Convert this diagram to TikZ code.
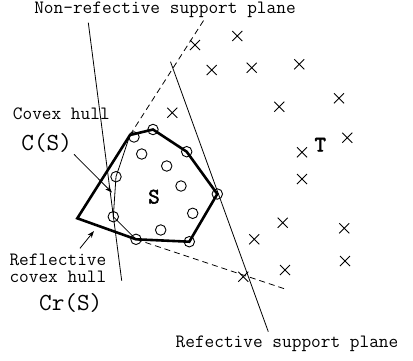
\documentclass[tikz,border=0pt]{standalone}
\usepackage{fontspec}
\newfontfamily\boldtt{Latin Modern Mono}[FakeBold=2.5]
\usetikzlibrary{arrows.meta}
\begin{document}
\begin{tikzpicture}[x=1pt,y=-1pt,
  thinline/.style={line width=0.8pt},
  thickline/.style={line width=2.6pt, line join=miter},
  spt/.style={circle, draw, line width=0.9pt, minimum size=10.5pt, inner sep=0pt},
  lbl/.style={font=\ttfamily\fontsize{18.8}{20}\selectfont, inner sep=0pt},
  biglbl/.style={font=\ttfamily\fontsize{24.5}{27}\selectfont, inner sep=0pt},
  boldlbl/.style={font=\boldtt\fontsize{22}{24}\selectfont, inner sep=0pt},
  arr/.style={thinline, -{Stealth[length=7pt,width=5pt]}},
  tcross/.pic={\draw[line width=0.9pt] (-5,-5) -- (5,5) (-5,5) -- (5,-5);}
]
\useasboundingbox (0,0) rectangle (413,360);

% S points
\foreach \n/\x/\y in {p1/134/137, p2/153/129.5, p3/186.7/151.7, p4/217.3/194,
  p5/189.3/241.7, p6/136/239.3, p7/113.3/216.7, p8/116/176.7,
  q1/141.7/154, q2/166.7/166, q3/181/186, q4/192.7/213.3, q5/160.7/230}
  \node[spt] (\n) at (\x,\y) {};

% T points
\foreach \x/\y in {195/45, 237.3/36, 211.7/70, 251.7/67.7, 299.3/64.3,
  172.3/112.7, 279.3/106.7, 339/98.3, 347.3/137.7, 302/152.3, 302/179,
  282.7/222.7, 344.3/228.3, 254.3/239.3, 345/261, 285/270, 243.3/276.7}
  \pic at (\x,\y) {tcross};

% polygon vertices
\coordinate (v0) at (77.3,218.3);
\coordinate (v1) at (130,135);

% thick reflective convex hull
\draw[thickline] (v0) -- (v1) -- (p2.center) -- (p3.center) -- (p4.center)
  -- (p5.center) -- (p6.center) -- cycle;

% thin convex hull part
\draw[thinline] (v1) -- (p8.center) -- (p7.center) -- (p6.center);

% support planes
\coordinate (n1) at (88.3,22.7);
\coordinate (n2) at (121.7,280.7);
\draw[thinline] (n1) -- (n2);
\coordinate (r1) at (170.5,61.7);
\coordinate (r2) at (268.3,331.7);
\draw[thinline] (r1) -- (r2);
\coordinate (d1) at (205,18.3);
\coordinate (d2) at (286,289.3);
\draw[thinline, dash pattern=on 6pt off 4pt] (v1) -- (d1);
\draw[thinline, dash pattern=on 6pt off 4pt] (p6.center) -- (d2);

% labels
\node[lbl] (nrsp) at (165,10) {Non-refective support plane};
\node[lbl] (ch) at (61.3,113.3) {Covex hull};
\node[biglbl] (cs) at (46.7,143.3) {C(S)};
\node[lbl, anchor=west] (rch1) at (9.3,260) {Reflective};
\node[lbl, anchor=west] (rch2) at (9.3,277) {covex hull};
\node[biglbl] (crs) at (70.7,303.3) {Cr(S)};
\node[lbl] (rsp) at (287,344) {Refective support plane};
\node[boldlbl] (slab) at (154,196.7) {S};
\node[boldlbl] (tlab) at (320.3,144.7) {T};

% arrows
\coordinate (a1s) at (74,154.3);
\coordinate (a1e) at (112,192.5);
\draw[arr] (a1s) -- (a1e);
\coordinate (a2s) at (80,248.3);
\coordinate (a2e) at (94,231);
\draw[arr] (a2s) -- (a2e);
\end{tikzpicture}
\end{document}
